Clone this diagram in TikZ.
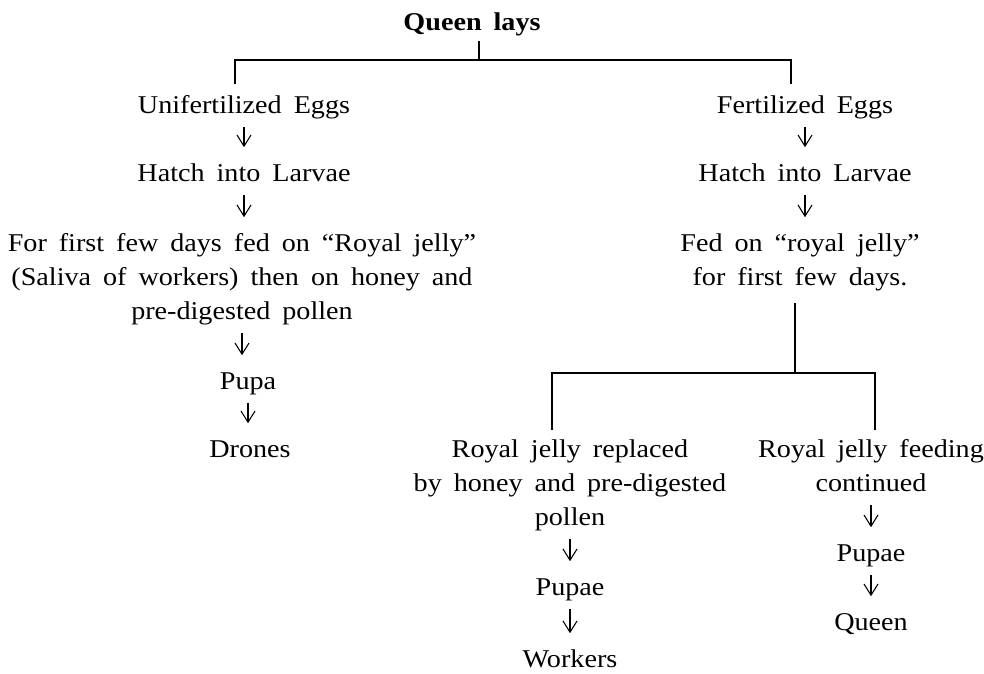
\documentclass[tikz,border=0pt]{standalone}
\usepackage{fontspec}
\setmainfont{Liberation Serif}[FakeStretch=1.1, WordSpace=1.7]
\usetikzlibrary{arrows.meta, positioning, calc}

\tikzset{
  stage/.style={inner sep=0pt, anchor=north, align=center,
    font=\fontsize{18.2}{24.2}\selectfont,
    execute at begin node=\strut, execute at end node=\strut},
  arr/.style={-{Straight Barb[length=8pt,width=10pt]}, line width=0.75pt,
    shorten <=0.08cm, shorten >=0.25cm},
  bar/.style={line width=1.3pt}
}

\begin{document}
\begin{tikzpicture}[x=0.025cm, y=-0.025cm]
\useasboundingbox (0,0) rectangle (984,674);

% top of the tree
\node[stage, font=\fontsize{18.2}{24.2}\selectfont\bfseries] (queen) at (472,6.2) {Queen lays};
\coordinate (top) at (479,60);
\coordinate (barL) at (235,60);
\coordinate (barR) at (791,60);

% unfertilized branch
\node[stage] (unf) at (244,89.2) {Unifertilized Eggs};
\node[stage] (hatchL) at (244,157.2) {Hatch into Larvae};
\node[stage] (feedL) at (242,227.2) {\strut For first few days fed on ``Royal jelly''\\
  (Saliva of workers) then on honey and\\ pre-digested pollen};
\node[stage] (pupa) at (248,365.2) {Pupa};
\node[stage] (drones) at (250,433.2) {Drones};

% fertilized branch
\node[stage] (fert) at (805,89.2) {Fertilized Eggs};
\node[stage] (hatchR) at (805,157.2) {Hatch into Larvae};
\node[stage] (fedR) at (800,227.2) {\strut Fed on ``royal jelly''\\ for first few days.};
\coordinate (mid) at (795,373);
\coordinate (midL) at (552,373);
\coordinate (midR) at (875,373);

\node[stage] (replaced) at (570,433.2) {\strut Royal jelly replaced\\
  by honey and pre-digested\\ pollen};
\node[stage] (pupaeW) at (570,571.2) {Pupae};
\node[stage] (workers) at (570,643.2) {Workers};

\node[stage] (continued) at (871,433.2) {\strut Royal jelly feeding\\ continued};
\node[stage] (pupaeQ) at (871,537.2) {Pupae};
\node[stage] (queenN) at (871,606.2) {Queen};

% brackets
\draw[bar] (queen.south -| top) -- (top);
\draw[bar] ([yshift=0.13cm]unf.north -| barL) -- (barL) -- (barR)
  -- ([yshift=0.13cm]fert.north -| barR);
\draw[bar] ([yshift=-0.18cm]fedR.south -| mid) -- (mid);
\draw[bar] ([yshift=0.08cm]replaced.north -| midL) -- (midL) -- (midR)
  -- ([yshift=0.08cm]continued.north -| midR);

% arrows
\foreach \a/\b in {unf/hatchL, hatchL/feedL, feedL/pupa, pupa/drones,
  fert/hatchR, hatchR/fedR, replaced/pupaeW, pupaeW/workers,
  continued/pupaeQ, pupaeQ/queenN}
  \draw[arr] (\a.south) -- (\a.south |- \b.north);
\end{tikzpicture}
\end{document}
